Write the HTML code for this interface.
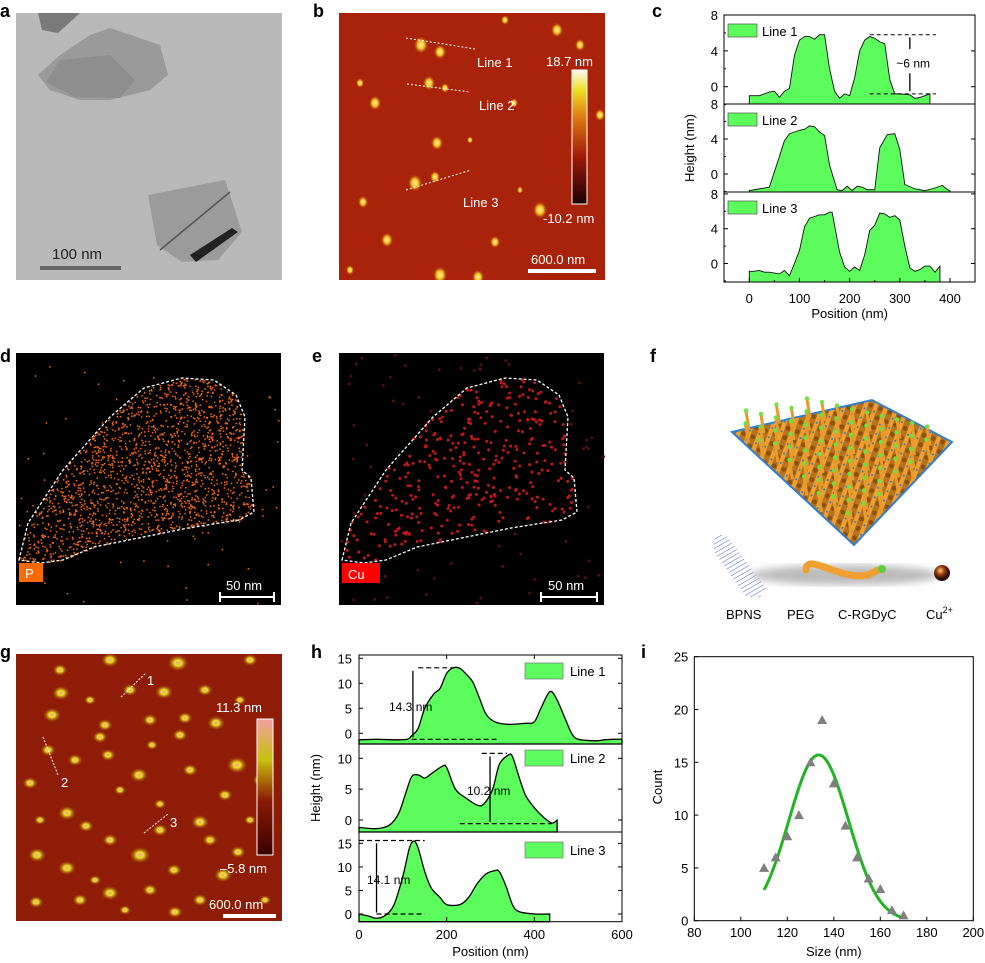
<!DOCTYPE html>
<html><head><meta charset="utf-8">
<style>
html,body{margin:0;padding:0;background:#fff;}
svg{display:block;font-family:"Liberation Sans",Arial,sans-serif;}
.pl{font-weight:bold;font-size:18px;fill:#000;}
.tk{font-size:13px;fill:#000;}
.wt{font-size:13px;fill:#fff;}
</style></head>
<body>
<svg id="fig" width="985" height="963" viewBox="0 0 985 963" xmlns="http://www.w3.org/2000/svg">
<defs>
<linearGradient id="cbB" x1="0" y1="1" x2="0" y2="0"><stop offset="0" stop-color="#1a0000"/><stop offset="0.35" stop-color="#a01808"/><stop offset="0.65" stop-color="#e07a10"/><stop offset="0.85" stop-color="#f0e020"/><stop offset="1" stop-color="#fff8f0"/></linearGradient>
<linearGradient id="cbG" x1="0" y1="1" x2="0" y2="0"><stop offset="0" stop-color="#3a0000"/><stop offset="0.4" stop-color="#8a1a04"/><stop offset="0.7" stop-color="#c8c010"/><stop offset="1" stop-color="#f2a0a0"/></linearGradient>
<radialGradient id="blobY"><stop offset="0" stop-color="#fff2a0"/><stop offset="0.5" stop-color="#f0c020"/><stop offset="1" stop-color="#c05010" stop-opacity="0"/></radialGradient>
<radialGradient id="blobG"><stop offset="0" stop-color="#f0a0a0"/><stop offset="0.35" stop-color="#e8e020"/><stop offset="1" stop-color="#a04008" stop-opacity="0"/></radialGradient>
<radialGradient id="cuBall" cx="0.4" cy="0.35"><stop offset="0" stop-color="#ffd080"/><stop offset="0.5" stop-color="#a04010"/><stop offset="1" stop-color="#301008"/></radialGradient>
<pattern id="latt" width="10" height="10" patternUnits="userSpaceOnUse" patternTransform="rotate(20)"><rect width="10" height="10" fill="#b8741c"/><rect width="4" height="10" fill="#f0a030"/><circle cx="7" cy="3" r="2.4" fill="#8a5010"/><circle cx="2" cy="8" r="1" fill="#2a7ad0"/></pattern>
<pattern id="bp" width="4" height="4" patternUnits="userSpaceOnUse" patternTransform="rotate(-30)"><rect width="4" height="4" fill="#fff"/><line x1="0" y1="0" x2="4" y2="0" stroke="#5060d0" stroke-width="1"/></pattern>
<filter id="blur3"><feGaussianBlur stdDeviation="4"/></filter>
</defs>

<!-- panel labels -->
<text class="pl" x="0" y="17">a</text>
<text class="pl" x="313" y="17">b</text>
<text class="pl" x="652" y="17">c</text>
<text class="pl" x="0" y="362">d</text>
<text class="pl" x="312" y="362">e</text>
<text class="pl" x="650" y="362">f</text>
<text class="pl" x="0" y="658">g</text>
<text class="pl" x="311" y="658">h</text>
<text class="pl" x="641" y="658">i</text>

<!-- a: TEM -->
<g>
<rect x="16" y="13" width="266" height="267" fill="#b9b9b9"/>
<polygon points="38,13 80,13 58,33 42,30" fill="#7a7a7a"/>
<polygon points="90,35 110,28 160,45 168,75 150,90 110,100 80,100 50,90 38,75 60,55" fill="#9a9a9a"/>
<polygon points="60,60 110,55 135,80 120,98 75,97 46,82" fill="#8e8e8e"/>
<polygon points="148,195 225,180 242,232 218,260 182,262 157,245" fill="#9b9b9b"/>
<polygon points="190,255 232,228 238,232 196,262" fill="#222"/>
<line x1="160" y1="250" x2="230" y2="192" stroke="#555" stroke-width="1.5"/>
<line x1="40" y1="268" x2="121" y2="268" stroke="#666" stroke-width="4"/>
<text x="52" y="259" font-size="15" fill="#222">100 nm</text>
</g>

<!-- b: AFM -->
<g>
<rect x="339" y="13" width="266" height="267" fill="#a9230b"/>
<svg x="339" y="13" width="266" height="267" viewBox="339 13 266 267" overflow="hidden"><g id="bBlobs"></g></svg>
<rect x="572" y="70" width="15" height="134" fill="url(#cbB)" stroke="#fff" stroke-width="1"/>
<text class="wt" x="546" y="66">18.7 nm</text>
<text class="wt" x="543" y="223">-10.2 nm</text>
<line x1="528" y1="271" x2="596" y2="271" stroke="#fff" stroke-width="4"/>
<text class="wt" x="531" y="264">600.0 nm</text>
<g stroke="#fff" stroke-width="1" stroke-dasharray="2,2">
<line x1="406" y1="38" x2="475" y2="49"/>
<line x1="407" y1="84" x2="470" y2="92"/>
<line x1="406" y1="190" x2="471" y2="170"/>
</g>
<text class="wt" x="477" y="67">Line 1</text>
<text class="wt" x="479" y="110">Line 2</text>
<text class="wt" x="463" y="207">Line 3</text>
</g>

<!-- c: profiles -->
<g id="panelC"></g>

<!-- d, e: EDS maps -->
<g>
<rect x="16" y="353" width="265" height="252" fill="#000"/>
<g id="dDots"></g>
<polygon id="dOutline" fill="none" stroke="#fff" stroke-width="1.3" stroke-dasharray="3,2" points="19,560 28,523 63,470 110,417 144,388 182,378 214,380 236,395 245,417 242,470 251,478 254,512 239,520 188,528 94,547 63,560 41,563"/>
<rect x="19" y="563" width="24" height="19" fill="#ff6a00"/>
<text class="wt" x="25" y="578" font-size="14">P</text>
<path d="M220,592 V602 M220,597 H274 M274,592 V602" stroke="#fff" stroke-width="2" fill="none"/>
<text class="wt" x="226" y="590">50 nm</text>
</g>
<g>
<rect x="339" y="353" width="265" height="252" fill="#000"/>
<g id="eDots"></g>
<polygon fill="none" stroke="#fff" stroke-width="1.3" stroke-dasharray="3,2" points="342,560 351,523 386,470 433,417 467,388 505,378 537,380 559,395 568,417 565,470 574,478 577,512 562,520 511,528 417,547 386,560 364,563"/>
<rect x="342" y="563" width="38" height="20" fill="#ff0000"/>
<text class="wt" x="348" y="579" font-size="14">Cu</text>
<path d="M541,592 V602 M541,597 H597 M597,592 V602" stroke="#fff" stroke-width="2" fill="none"/>
<text class="wt" x="548" y="590">50 nm</text>
</g>

<!-- f: schematic -->
<g>
<polygon id="fLat" points="732,432 872,400 952,442 854,545" fill="url(#latt)" stroke="#3080d0" stroke-width="2"/>
<g id="fPegs"></g>
<polygon points="714,535 726,535 766,588 760,597 746,597 714,552" fill="url(#bp)"/>
<ellipse cx="845" cy="575" rx="95" ry="10" fill="#bbb" filter="url(#blur3)"/>
<path d="M806,570 C806,555 830,572 850,575 S872,572 878,570" stroke="#f0a030" stroke-width="7" fill="none" stroke-linecap="round"/>
<circle cx="882" cy="569" r="4" fill="#5ad040"/>
<circle cx="942" cy="573" r="8" fill="url(#cuBall)"/>
<text class="tk" x="726" y="619">BPNS</text>
<text class="tk" x="787" y="619">PEG</text>
<text class="tk" x="838" y="619">C-RGDyC</text>
<text class="tk" x="926" y="619">Cu<tspan font-size="9" dy="-6">2+</tspan></text>
</g>

<!-- g: AFM -->
<g>
<rect x="16" y="654" width="266" height="267" fill="#8e1c06"/>
<g id="gBlobs"></g>
<rect x="257" y="719" width="16" height="136" fill="url(#cbG)" stroke="#fff" stroke-width="1"/>
<text class="wt" x="216" y="712">11.3 nm</text>
<text class="wt" x="220" y="873">–5.8 nm</text>
<line x1="223" y1="916" x2="276" y2="916" stroke="#fff" stroke-width="4"/>
<text class="wt" x="209" y="909">600.0 nm</text>
<g stroke="#fff" stroke-width="1" stroke-dasharray="2,1.5">
<line x1="121" y1="697" x2="146" y2="673"/>
<line x1="43" y1="737" x2="58" y2="775"/>
<line x1="144" y1="833" x2="168" y2="814"/>
</g>
<text class="wt" x="147" y="685">1</text>
<text class="wt" x="61" y="787">2</text>
<text class="wt" x="170" y="827">3</text>
</g>

<g id="panelH"></g>
<g id="panelI"></g>
</svg>

<script>
// ---- Panel c data ----
const cLine1X = [0,20,40,50,60,70,80,90,100,110,120,130,140,150,160,170,180,190,200,210,220,230,240,250,260,270,280,290,300,320,330,340,350,360];
const cLine1Y = [-1,-1,-0.6,-0.5,-1.2,-0.5,-0.2,3.5,5.2,5.6,5.6,5.3,5.8,5.8,2,-0.5,-1.3,-0.8,-1,1,4,5.2,5.6,5.4,5,4.8,0.8,-0.8,-0.8,-0.9,-1.3,-1.2,-1,-0.8];
const cLine2X = [0,40,60,70,80,100,110,120,130,140,150,160,175,185,195,205,215,225,235,250,260,275,290,300,310,330,350,370,385,395,400];
const cLine2Y = [-1.9,-1.5,2,3.8,4.6,5,5.1,5.5,5.4,4.8,4.4,1,-1.8,-1.9,-1.4,-1.9,-1.4,-1.5,-1.8,-1.8,3,4.5,4.6,2.8,-1.2,-1.7,-1.9,-1.6,-1.3,-1.8,-1.9];
const cLine3X = [0,10,20,30,40,60,70,80,90,100,110,120,140,150,160,165,180,190,200,210,220,230,240,250,260,270,280,290,300,310,320,330,340,350,360,370,380];
const cLine3Y = [-0.9,-0.9,-0.8,-1,-1,-1.2,-0.8,-1.4,0,1.5,4.2,5.2,5.6,5.6,5.9,5.9,1.3,-0.4,-0.9,-0.4,-0.8,1,3.8,4.4,5.8,5.7,5.3,5.5,5,2,-0.5,-0.9,-0.7,-0.3,-0.3,-1,-0.3];
const cYTicks = [0,4,8];
const cXTicks = [0,100,200,300,400];
const cLegend = ["Line 1","Line 2","Line 3"];

// ---- Panel h data ----
const hLine1X = [0,40,80,110,120,135,150,170,185,200,215,230,245,260,275,290,310,340,380,400,415,435,450,470,485,500,540,560,580,600];
const hLine1Y = [-1.3,-1.2,-1.3,-1.2,-0.5,1,5,7.8,9,12,13.1,13,11.8,10.2,7,3.8,2.3,1.8,2,2.3,5,8.3,7,3,0,-1.2,-1.5,-1.3,-1.2,-1.2];
const hLine2X = [0,40,70,90,105,120,135,150,165,190,200,220,245,270,285,305,320,340,350,365,380,400,420,440,452];
const hLine2Y = [-1.2,-1.4,-0.8,1,4,7,7.3,6.8,7.5,8.7,8.5,5,3.5,2.4,2.6,5,9,10.5,10.3,7,4,2,0.5,-0.5,0];
const hLine3X = [0,20,40,60,80,100,115,125,135,150,165,185,200,230,250,270,290,310,320,335,350,365,400,435];
const hLine3Y = [0,-0.4,-0.9,-0.3,2,8,14,15.5,14,9,5.5,3.5,2,2,3.5,6.5,8.5,9.2,9,6,2,0.5,0,0];
const hYTicks1 = [0,5,10,15];
const hYTicks2 = [0,5,10];
const hYTicks3 = [0,5,10,15];
const hXTicks = [0,200,400,600];
const hLegend = ["Line 1","Line 2","Line 3"];

// ---- Panel i data ----
const iSize = [110,115,120,125,130,135,140,145,150,155,160,165,170];
const iCount = [5,6,8,10,15,19,13,9,6,4,3,1,0.5];
const iFitParams = [15.7,133.5,12.8,110,170]; // amplitude, center, sigma, start, end
const iXTicks = [80,100,120,140,160,180,200];
const iYTicks = [0,5,10,15,20,25];

const NS = "http://www.w3.org/2000/svg";
function mk(tag, attrs, parent){const e=document.createElementNS(NS,tag);for(const k in attrs)e.setAttribute(k,attrs[k]);parent.appendChild(e);return e;}
function txt(s, attrs, parent){const e=mk("text",attrs,parent);e.textContent=s;return e;}

// ---- Draw panel c ----
(function(){
  const g=document.getElementById("panelC");
  const L=724,R=975;
  const cx=v=>749.3+v*0.5017;
  const subs=[{t:15,b:104,z:86.7,s:8.96},{t:104,b:192,z:174,s:8.75},{t:192,b:282,z:263.5,s:8.7}];
  const xs=[cLine1X,cLine2X,cLine3X], ys=[cLine1Y,cLine2Y,cLine3Y];
  subs.forEach((sp,k)=>{
    const cy=v=>sp.z-v*sp.s;
    let d="M"+cx(xs[k][0])+","+sp.b;
    xs[k].forEach((x,i)=>{d+=" L"+cx(x)+","+cy(ys[k][i]);});
    d+=" L"+cx(xs[k][xs[k].length-1])+","+sp.b+" Z";
    const p=mk("path",{d:d,fill:"#5dfc5d",stroke:"#111","stroke-width":"0.9"},g);
    
    
    cYTicks.forEach(v=>{
      const y=cy(v);
      mk("line",{x1:L,y1:y,x2:L+4,y2:y,stroke:"#000"},g);
      mk("line",{x1:R,y1:y,x2:R-4,y2:y,stroke:"#000"},g);
      mk("line",{x1:L,y1:cy(v-2),x2:L+2,y2:cy(v-2),stroke:"#000"},g);
      const t=txt(String(v),{x:L-6,y:y+5,"text-anchor":"end",class:"tk"},g);
      
      
    });
    const r=mk("rect",{x:L,y:sp.t,width:R-L,height:sp.b-sp.t,fill:"none",stroke:"#000","stroke-width":"1"},g);
    
    
    const lr=mk("rect",{x:728,y:sp.t+9,width:29,height:13,fill:"#5dfc5d",stroke:"#555","stroke-width":"0.7"},g);
    
    
    const lt=txt(cLegend[k],{x:762,y:sp.t+21,class:"tk"},g);
    
    
  });
  cXTicks.forEach(v=>{
    mk("line",{x1:cx(v),y1:282,x2:cx(v),y2:278,stroke:"#000"},g);
    mk("line",{x1:cx(v+50),y1:282,x2:cx(v+50),y2:280,stroke:"#000"},g);
    const t=txt(String(v),{x:cx(v),y:303,"text-anchor":"middle",class:"tk"},g);
    
    
  });
  const xt=txt("Position (nm)",{x:cx(200),y:318,"text-anchor":"middle",class:"tk"},g);
  
  
  const yt=txt("Height (nm)",{x:0,y:0,"text-anchor":"middle",class:"tk",transform:"translate(694,148) rotate(-90)"},g);
  
  
  const cy0=v=>86.7-v*8.96;
  mk("line",{x1:cx(240),y1:cy0(5.8),x2:cx(372),y2:cy0(5.8),stroke:"#000","stroke-dasharray":"4,3"},g);
  mk("line",{x1:cx(240),y1:cy0(-0.8),x2:cx(372),y2:cy0(-0.8),stroke:"#000","stroke-dasharray":"4,3"},g);
  mk("line",{x1:cx(320),y1:cy0(4.2),x2:cx(320),y2:cy0(5.5),stroke:"#000","stroke-width":"1.3"},g);
  mk("line",{x1:cx(320),y1:cy0(1.5),x2:cx(320),y2:cy0(-0.5),stroke:"#000","stroke-width":"1.3"},g);
  const an=txt("~6 nm",{x:cx(293),y:cy0(2.6)+4,"font-size":"12",fill:"#000"},g);
  
  
})();

// ---- Draw panel h ----
(function(){
  const g=document.getElementById("panelH");
  const L=359,R=622;
  const hx=v=>359+v*0.4383;
  const subs=[{t:655,b:744,z:733.3,s:5,ticks:hYTicks1},{t:744,b:832,z:820,s:6.17,ticks:hYTicks2},{t:832,b:921.7,z:914,s:4.71,ticks:hYTicks3}];
  const xs=[hLine1X,hLine2X,hLine3X], ys=[hLine1Y,hLine2Y,hLine3Y];
  const legY=[663,750,842];
  subs.forEach((sp,k)=>{
    const hy=v=>sp.z-v*sp.s;
    const pts=xs[k].map((x,i)=>[hx(x),hy(ys[k][i])]);
    let d="M"+pts[0][0]+","+sp.b+" L"+pts[0][0]+","+pts[0][1];
    for(let i=1;i<pts.length;i++){
      const p0=pts[Math.max(0,i-2)],p1=pts[i-1],p2=pts[i],p3=pts[Math.min(pts.length-1,i+1)];
      const c1x=p1[0]+(p2[0]-p0[0])/6,c1y=p1[1]+(p2[1]-p0[1])/6,c2x=p2[0]-(p3[0]-p1[0])/6,c2y=p2[1]-(p3[1]-p1[1])/6;
      d+=" C"+c1x+","+c1y+" "+c2x+","+c2y+" "+p2[0]+","+p2[1];
    }
    d+=" L"+pts[pts.length-1][0]+","+sp.b+" Z";
    const p=mk("path",{d:d,fill:"#5dfc5d",stroke:"#000","stroke-width":"1.3"},g);
    
    
    sp.ticks.forEach(v=>{
      const y=hy(v);
      mk("line",{x1:L,y1:y,x2:L+4,y2:y,stroke:"#000"},g);
      mk("line",{x1:R,y1:y,x2:R-4,y2:y,stroke:"#000"},g);
      const t=txt(String(v),{x:L-7,y:y+5,"text-anchor":"end",class:"tk"},g);
      
      
    });
    const r=mk("rect",{x:L,y:sp.t,width:R-L,height:sp.b-sp.t,fill:"none",stroke:"#000","stroke-width":"1"},g);
    
    
    const lr=mk("rect",{x:525,y:legY[k],width:38,height:16,fill:"#5dfc5d",stroke:"#777","stroke-width":"0.7"},g);
    
    
    const lt=txt(hLegend[k],{x:570,y:legY[k]+13,class:"tk"},g);
    
    
  });
  hXTicks.forEach(v=>{
    mk("line",{x1:hx(v),y1:921.7,x2:hx(v),y2:917,stroke:"#000"},g);
    mk("line",{x1:hx(v),y1:655,x2:hx(v),y2:659,stroke:"#000"},g);
    const t=txt(String(v),{x:hx(v),y:939,"text-anchor":"middle",class:"tk"},g);
    
    
  });
  const xt=txt("Position (nm)",{x:hx(300),y:956,"text-anchor":"middle",class:"tk"},g);
  
  
  const yt=txt("Height (nm)",{x:0,y:0,"text-anchor":"middle",class:"tk",transform:"translate(320,788) rotate(-90)"},g);
  
  
  const dash={stroke:"#000","stroke-dasharray":"5,3","stroke-width":"1.2"};
  const y1=v=>733.3-v*5, y2=v=>820-v*6.17, y3=v=>914-v*4.71;
  mk("line",Object.assign({x1:hx(135),y1:y1(13.1),x2:hx(218),y2:y1(13.1)},dash),g);
  mk("line",Object.assign({x1:hx(120),y1:y1(-1.2),x2:hx(320),y2:y1(-1.2)},dash),g);
  mk("line",{x1:hx(123),y1:y1(12.5),x2:hx(123),y2:y1(-0.8),stroke:"#000","stroke-width":"1.3"},g);
  mk("line",Object.assign({x1:hx(280),y1:y2(10.8),x2:hx(338),y2:y2(10.8)},dash),g);
  mk("line",Object.assign({x1:hx(230),y1:y2(-0.6),x2:hx(440),y2:y2(-0.6)},dash),g);
  mk("line",{x1:hx(299),y1:y2(10.3),x2:hx(299),y2:y2(-0.3),stroke:"#000","stroke-width":"1.3"},g);
  mk("line",Object.assign({x1:hx(0),y1:y3(15.6),x2:hx(150),y2:y3(15.6)},dash),g);
  mk("line",Object.assign({x1:hx(40),y1:y3(0),x2:hx(150),y2:y3(0)},dash),g);
  mk("line",{x1:hx(40),y1:y3(15),x2:hx(40),y2:y3(0.3),stroke:"#000","stroke-width":"1.3"},g);
  [["14.3 nm",389,711],["10.2 nm",467,795],["14.1 nm",367,884]].forEach(a=>{
    const t=txt(a[0],{x:a[1],y:a[2],"font-size":"12",fill:"#000"},g);
    
    
  });
})();

// ---- Draw panel i ----
(function(){
  const g=document.getElementById("panelI");
  const ix=v=>694.3+(v-80)*2.325, iy=v=>920.7-v*10.56;
  const fr=mk("rect",{x:ix(80),y:iy(25),width:ix(200)-ix(80),height:iy(0)-iy(25),fill:"none",stroke:"#000","stroke-width":"1"},g);
  
  
  iXTicks.forEach(v=>{
    mk("line",{x1:ix(v),y1:iy(0),x2:ix(v),y2:iy(0)-4,stroke:"#000"},g);
    const t=txt(String(v),{x:ix(v),y:937,"text-anchor":"middle",class:"tk"},g);
    
    
  });
  iYTicks.forEach(v=>{
    mk("line",{x1:ix(80),y1:iy(v),x2:ix(80)+4,y2:iy(v),stroke:"#000"},g);
    const t=txt(String(v),{x:ix(80)-6,y:iy(v)+5,"text-anchor":"end",class:"tk"},g);
    
    
  });
  const xt=txt("Size (nm)",{x:ix(140),y:956,"text-anchor":"middle",class:"tk"},g);
  
  
  const yt=txt("Count",{x:0,y:0,"text-anchor":"middle",class:"tk",transform:"translate(662,787) rotate(-90)"},g);
  
  
  const [A,mu,sg,x0,x1]=iFitParams;
  let d="";
  for(let x=x0;x<=x1+0.01;x+=1){const y=A*Math.exp(-((x-mu)*(x-mu))/(2*sg*sg));d+=(d?" L":"M")+ix(x)+","+iy(y);}
  const fit=mk("path",{d:d,fill:"none",stroke:"#22b422","stroke-width":"3"},g);
  
  
  iSize.forEach((s,i)=>{
    const X=ix(s),Y=iy(iCount[i]);
    const tri=mk("polygon",{points:(X-5)+","+(Y+4)+" "+(X+5)+","+(Y+4)+" "+X+","+(Y-5),fill:"#7f7f7f"},g);
    
    
  });
})();

// ---- textures for micrographs ----
(function(){
  let seed=7;const rnd=()=>{seed=(seed*16807)%2147483647;return seed/2147483647;};
  function inPoly(x,y,pts){let c=false;for(let i=0,j=pts.length-1;i<pts.length;j=i++){const xi=pts[i][0],yi=pts[i][1],xj=pts[j][0],yj=pts[j][1];if(((yi>y)!=(yj>y))&&(x<(xj-xi)*(y-yi)/(yj-yi)+xi))c=!c;}return c;}
  const poly=document.getElementById("dOutline").getAttribute("points").split(" ").map(p=>p.split(",").map(Number));
  const dg=document.getElementById("dDots"), eg=document.getElementById("eDots");
  for(let n=0;n<4500;n++){const x=16+rnd()*265,y=353+rnd()*252;const inside=inPoly(x,y,poly);if(inside||rnd()<0.02)mk("rect",{x:x,y:y,width:1.5,height:1.5,fill:"#ff6a10"},dg);}
  for(let n=0;n<900;n++){const x=16+rnd()*265,y=353+rnd()*252;const inside=inPoly(x,y,poly);if(inside||rnd()<0.12)mk("circle",{cx:x+323,cy:y,r:1.5,fill:inside?"#c01818":"#501010"},eg);}
  const bg=document.getElementById("bBlobs");
  const bb=[[421,45,7],[440,52,6],[429,83,6],[445,88,4],[375,103,6],[437,143,6],[415,183,7],[435,177,5],[387,240,6],[363,202,5],[495,242,5],[540,210,7],[600,115,5],[514,103,4],[440,275,7],[478,277,6],[557,30,6],[580,45,5],[505,20,4],[360,83,4],[470,140,3],[520,190,3],[350,270,4]];
  bb.forEach(b=>mk("ellipse",{cx:b[0],cy:b[1],rx:b[2],ry:b[2]*1.2,fill:"url(#blobY)"},bg));
  const gg=document.getElementById("gBlobs");
  const gb=[[110,660,6],[178,663,7],[61,693,6],[130,690,5],[164,692,6],[52,715,6],[185,718,5],[105,725,5],[100,737,5],[216,723,6],[180,735,5],[48,750,5],[108,755,5],[152,745,4],[237,765,7],[139,775,6],[30,783,5],[67,813,6],[86,826,5],[225,795,5],[160,804,4],[200,822,6],[210,840,5],[37,855,6],[67,868,6],[140,855,7],[174,870,5],[238,852,5],[110,893,6],[36,902,5],[175,912,5],[223,875,6],[200,900,5],[260,780,5],[250,660,5],[95,880,4],[125,910,4],[60,670,5],[90,700,4],[150,720,5],[205,690,5],[240,700,4],[75,760,5],[120,790,4],[190,770,5],[40,820,4],[110,840,5],[160,830,5],[250,820,4],[80,900,5],[150,890,5],[265,900,4]];
  gb.forEach(b=>mk("ellipse",{cx:b[0],cy:b[1],rx:b[2]*1.5,ry:b[2]*1.2,fill:"url(#blobG)"},gg));
  const fp=document.getElementById("fPegs");
  const lat=document.getElementById("fLat").getAttribute("points").split(" ").map(p=>p.split(",").map(Number));
  for(let i=0;i<14;i++)for(let j=0;j<12;j++){
    const x=735+i*15-j*0.5, y=388+i*3.5+j*13;
    if(inPoly(x,y+12,lat)){
      mk("line",{x1:x,y1:y+12,x2:x-3,y2:y-6,stroke:"#e89a2a","stroke-width":"3"},fp);
      mk("circle",{cx:x-3,cy:y-7,r:2.2,fill:"#6ee040"},fp);
    }
  }
})();
</script>
</body></html>
